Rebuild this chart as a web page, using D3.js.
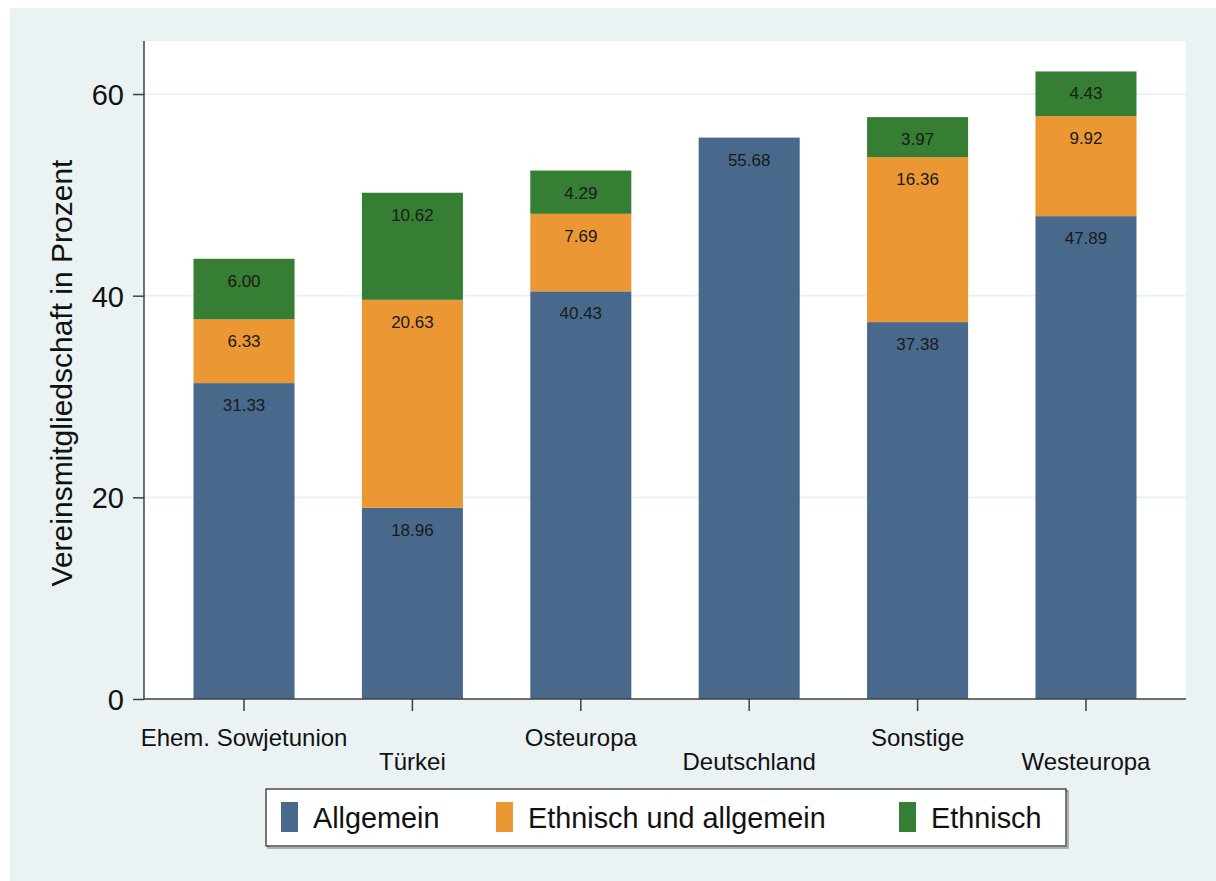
<!DOCTYPE html>
<html>
<head>
<meta charset="utf-8">
<script src="https://cdn.jsdelivr.net/npm/d3@7"></script>
<style>
  body { margin: 0; background: #fff; }
  svg { display: block; font-family: "Liberation Sans", Arial, sans-serif; }
</style>
</head>
<body>
<svg id="chart" width="1216" height="881"></svg>
<script>
// data
const regions = ["Ehem. Sowjetunion", "Türkei", "Osteuropa", "Deutschland", "Sonstige", "Westeuropa"];
const allgemein = [31.33, 18.96, 40.43, 55.68, 37.38, 47.89];
const ethnAllg = [6.33, 20.63, 7.69, 0, 16.36, 9.92];
const ethnisch = [6.00, 10.62, 4.29, 0, 3.97, 4.43];
const seriesNames = ["Allgemein", "Ethnisch und allgemein", "Ethnisch"];
const yTicks = [0, 20, 40, 60];

const colors = ["#48698c", "#ea9734", "#357e33"];

const svg = d3.select("#chart");
const plotLeft = 144, plotRight = 1186, plotTop = 41, plotBottom = 699;

// outer grey background
svg.append("rect")
    .attr("x", 10).attr("y", 8)
    .attr("width", 1206).attr("height", 873)
    .attr("fill", "#eaf2f3");

svg.append("rect")
    .attr("x", plotLeft).attr("y", plotTop)
    .attr("width", plotRight - plotLeft).attr("height", plotBottom - plotTop)
    .attr("fill", "#fff");

let x = d3.scaleBand()
    .domain(regions)
    .range([plotLeft, plotRight])
    .paddingInner(0.4)
    .paddingOuter(0.294);

let y = d3.scaleLinear()
    .domain([0, 65.26])
    .range([plotBottom, plotTop]);

// gridlines
svg.append("g")
    .selectAll("line")
    .data(yTicks.filter(d => d > 0))
    .join("line")
    .attr("x1", plotLeft).attr("x2", plotRight)
    .attr("y1", d => y(d)).attr("y2", d => y(d))
    .attr("stroke", "#e6eff1")
    .attr("stroke-width", 1.8);

// stacked data
let rows = regions.map((r, i) => ({
    region: r,
    [seriesNames[0]]: allgemein[i],
    [seriesNames[1]]: ethnAllg[i],
    [seriesNames[2]]: ethnisch[i]
}));
let stacked = d3.stack().keys(seriesNames)(rows);

let layers = svg.append("g")
    .selectAll("g")
    .data(stacked)
    .join("g")
    .attr("fill", (d, i) => colors[i]);

layers.selectAll("rect")
    .data(d => d.filter(s => s[1] - s[0] > 0))
    .join("rect")
    .attr("x", d => x(d.data.region))
    .attr("width", x.bandwidth())
    .attr("y", d => y(d[1]))
    .attr("height", d => y(d[0]) - y(d[1]));

layers.selectAll("text")
    .data(d => d.filter(s => s[1] - s[0] > 0).map(s => ({ s, key: d.key })))
    .join("text")
    .attr("x", d => x(d.s.data.region) + x.bandwidth() / 2)
    .attr("y", d => y(d.s[1]) + 28)
    .attr("text-anchor", "middle")
    .attr("font-size", 17)
    .attr("fill", "#1a1a1a")
    .text(d => d3.format(".2f")(d.s.data[d.key]));

// y axis
let yAxis = d3.axisLeft(y)
    .tickValues(yTicks)
    .tickSize(11)
    .tickPadding(9);

svg.append("g")
    .attr("transform", `translate(${plotLeft},0)`)
    .call(yAxis)
    .call(g => g.select(".domain").attr("d", `M0,${plotTop}V${plotBottom}`).attr("stroke", "#404040").attr("stroke-width", 1.5))
    .call(g => g.selectAll(".tick line").attr("stroke", "#404040").attr("stroke-width", 1.5))
    .call(g => g.selectAll(".tick text").attr("font-size", 29).attr("fill", "#111").attr("font-family", null).attr("dy", "0.36em"));

// x axis
let xAxis = d3.axisBottom(x)
    .tickSize(12)
    .tickFormat("");

svg.append("g")
    .attr("transform", `translate(0,${plotBottom})`)
    .call(xAxis)
    .call(g => g.select(".domain").attr("d", `M${plotLeft},0H${plotRight}`).attr("stroke", "#404040").attr("stroke-width", 1.5))
    .call(g => g.selectAll(".tick line").attr("stroke", "#404040").attr("stroke-width", 1.5));

svg.append("g")
    .selectAll("text")
    .data(regions)
    .join("text")
    .attr("x", d => x(d) + x.bandwidth() / 2)
    .attr("y", (d, i) => i % 2 === 0 ? 746 : 770)
    .attr("text-anchor", "middle")
    .attr("font-size", 24)
    .attr("fill", "#111")
    .text(d => d);

// y title
svg.append("text")
    .attr("transform", "translate(72,373) rotate(-90)")
    .attr("text-anchor", "middle")
    .attr("font-size", 30)
    .attr("fill", "#111")
    .text("Vereinsmitgliedschaft in Prozent");

// legend
let legend = svg.append("g");
legend.append("rect")
    .attr("x", 267).attr("y", 790)
    .attr("width", 800).attr("height", 57)
    .attr("fill", "none")
    .attr("stroke", "#999")
    .attr("stroke-width", 1.5)
    .attr("transform", "translate(1,1)");
legend.append("rect")
    .attr("x", 266).attr("y", 789)
    .attr("width", 800).attr("height", 57)
    .attr("fill", "#fff")
    .attr("stroke", "#222")
    .attr("stroke-width", 1.2);

const legendX = [281, 496, 899];
let items = legend.selectAll("g.item")
    .data(seriesNames)
    .join("g")
    .attr("class", "item")
    .attr("transform", (d, i) => `translate(${legendX[i]},0)`);
items.append("rect")
    .attr("x", 0).attr("y", 802)
    .attr("width", 17).attr("height", 30)
    .attr("fill", (d, i) => colors[i]);
items.append("text")
    .attr("x", 32).attr("y", 828)
    .attr("font-size", 28.8)
    .attr("fill", "#111")
    .text(d => d);
</script>
</body>
</html>
